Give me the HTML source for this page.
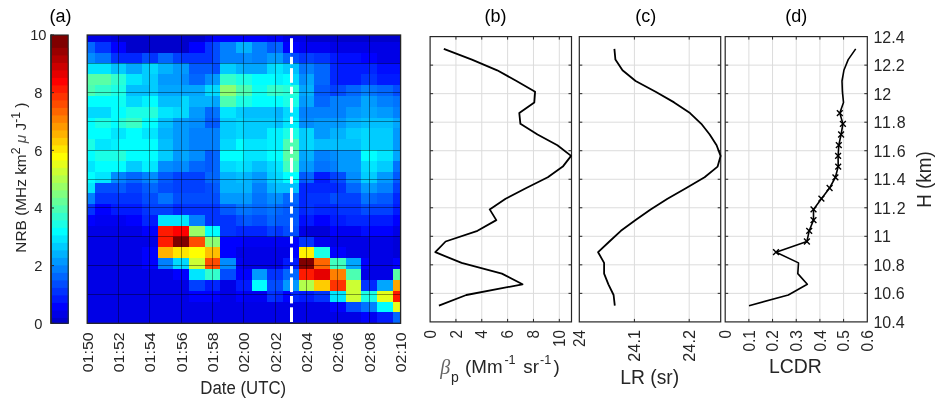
<!DOCTYPE html>
<html><head><meta charset="utf-8"><title>Figure</title>
<style>
html,body{margin:0;padding:0;background:#fff;}
svg{display:block;font-family:"Liberation Sans",sans-serif;}
</style></head><body>
<svg width="944" height="406" viewBox="0 0 944 406">
<rect width="944" height="406" fill="#fff"/>
<rect x="51.0" y="35.0" width="17.20" height="288.30" fill="#800000"/>
<rect x="51.0" y="47.90" width="17.20" height="275.40" fill="#990000"/>
<rect x="51.0" y="55.40" width="17.20" height="267.90" fill="#b20000"/>
<rect x="51.0" y="62.90" width="17.20" height="260.40" fill="#cc0000"/>
<rect x="51.0" y="70.40" width="17.20" height="252.90" fill="#e60000"/>
<rect x="51.0" y="77.90" width="17.20" height="245.40" fill="#ff0000"/>
<rect x="51.0" y="85.40" width="17.20" height="237.90" fill="#ff1a00"/>
<rect x="51.0" y="92.90" width="17.20" height="230.40" fill="#ff3300"/>
<rect x="51.0" y="100.40" width="17.20" height="222.90" fill="#ff4c00"/>
<rect x="51.0" y="107.90" width="17.20" height="215.40" fill="#ff6600"/>
<rect x="51.0" y="115.40" width="17.20" height="207.90" fill="#ff8000"/>
<rect x="51.0" y="122.90" width="17.20" height="200.40" fill="#ff9900"/>
<rect x="51.0" y="130.40" width="17.20" height="192.90" fill="#ffb200"/>
<rect x="51.0" y="137.90" width="17.20" height="185.40" fill="#ffcc00"/>
<rect x="51.0" y="145.40" width="17.20" height="177.90" fill="#ffe600"/>
<rect x="51.0" y="152.90" width="17.20" height="170.40" fill="#ffff00"/>
<rect x="51.0" y="160.40" width="17.20" height="162.90" fill="#e6ff1a"/>
<rect x="51.0" y="167.90" width="17.20" height="155.40" fill="#ccff33"/>
<rect x="51.0" y="175.40" width="17.20" height="147.90" fill="#b2ff4c"/>
<rect x="51.0" y="182.90" width="17.20" height="140.40" fill="#99ff66"/>
<rect x="51.0" y="190.40" width="17.20" height="132.90" fill="#80ff80"/>
<rect x="51.0" y="197.90" width="17.20" height="125.40" fill="#66ff99"/>
<rect x="51.0" y="205.40" width="17.20" height="117.90" fill="#4cffb2"/>
<rect x="51.0" y="212.90" width="17.20" height="110.40" fill="#33ffcc"/>
<rect x="51.0" y="220.40" width="17.20" height="102.90" fill="#1affe6"/>
<rect x="51.0" y="227.90" width="17.20" height="95.40" fill="#00ffff"/>
<rect x="51.0" y="235.40" width="17.20" height="87.90" fill="#00e6ff"/>
<rect x="51.0" y="242.90" width="17.20" height="80.40" fill="#00ccff"/>
<rect x="51.0" y="250.40" width="17.20" height="72.90" fill="#00b2ff"/>
<rect x="51.0" y="257.90" width="17.20" height="65.40" fill="#0099ff"/>
<rect x="51.0" y="265.40" width="17.20" height="57.90" fill="#0080ff"/>
<rect x="51.0" y="272.90" width="17.20" height="50.40" fill="#0066ff"/>
<rect x="51.0" y="280.40" width="17.20" height="42.90" fill="#004cff"/>
<rect x="51.0" y="287.90" width="17.20" height="35.40" fill="#0033ff"/>
<rect x="51.0" y="295.40" width="17.20" height="27.90" fill="#001aff"/>
<rect x="51.0" y="302.90" width="17.20" height="20.40" fill="#0000ff"/>
<rect x="51.0" y="310.40" width="17.20" height="12.90" fill="#0000e6"/>
<rect x="51.0" y="317.90" width="17.20" height="5.40" fill="#0000cc"/>
<rect x="51.0" y="35.0" width="17.20" height="288.30" fill="none" stroke="#262626" stroke-width="1.1"/>
<rect x="50.2" y="34.5" width="1.6" height="289.30" fill="#262626"/>
<line x1="51.0" x2="54.0" y1="323.30" y2="323.30" stroke="#262626" stroke-width="1"/>
<text x="38.3" y="328.60" font-size="14.7" text-anchor="middle" fill="#262626">0</text>
<line x1="51.0" x2="54.0" y1="265.64" y2="265.64" stroke="#262626" stroke-width="1"/>
<text x="38.3" y="270.94" font-size="14.7" text-anchor="middle" fill="#262626">2</text>
<line x1="51.0" x2="54.0" y1="207.98" y2="207.98" stroke="#262626" stroke-width="1"/>
<text x="38.3" y="213.28" font-size="14.7" text-anchor="middle" fill="#262626">4</text>
<line x1="51.0" x2="54.0" y1="150.32" y2="150.32" stroke="#262626" stroke-width="1"/>
<text x="38.3" y="155.62" font-size="14.7" text-anchor="middle" fill="#262626">6</text>
<line x1="51.0" x2="54.0" y1="92.66" y2="92.66" stroke="#262626" stroke-width="1"/>
<text x="38.3" y="97.96" font-size="14.7" text-anchor="middle" fill="#262626">8</text>
<line x1="51.0" x2="54.0" y1="35.00" y2="35.00" stroke="#262626" stroke-width="1"/>
<text x="38.3" y="40.30" font-size="14.7" text-anchor="middle" fill="#262626">10</text>
<g shape-rendering="crispEdges">
<rect x="87.20" y="35.00" width="23.91" height="7.12" fill="#0000e6"/>
<rect x="110.71" y="35.00" width="8.23" height="7.12" fill="#0000d9"/>
<rect x="118.54" y="35.00" width="86.59" height="7.12" fill="#0000cc"/>
<rect x="204.73" y="35.00" width="8.23" height="7.12" fill="#0000e6"/>
<rect x="212.56" y="35.00" width="55.25" height="7.12" fill="#0000ff"/>
<rect x="267.41" y="35.00" width="8.23" height="7.12" fill="#0000f2"/>
<rect x="275.24" y="35.00" width="8.24" height="7.12" fill="#0000ff"/>
<rect x="283.08" y="35.00" width="23.90" height="7.12" fill="#0000e6"/>
<rect x="306.58" y="35.00" width="94.42" height="7.12" fill="#0000cc"/>
<rect x="87.20" y="41.72" width="8.23" height="11.23" fill="#0066ff"/>
<rect x="95.03" y="41.72" width="16.07" height="11.23" fill="#0033ff"/>
<rect x="110.71" y="41.72" width="16.07" height="11.23" fill="#0000ff"/>
<rect x="126.38" y="41.72" width="63.08" height="11.23" fill="#0000cc"/>
<rect x="189.06" y="41.72" width="16.07" height="11.23" fill="#0000ff"/>
<rect x="204.73" y="41.72" width="8.23" height="11.23" fill="#0033ff"/>
<rect x="212.56" y="41.72" width="8.24" height="11.23" fill="#004cff"/>
<rect x="220.40" y="41.72" width="16.07" height="11.23" fill="#0080ff"/>
<rect x="236.06" y="41.72" width="16.07" height="11.23" fill="#00b2ff"/>
<rect x="251.74" y="41.72" width="16.07" height="11.23" fill="#0080ff"/>
<rect x="267.41" y="41.72" width="8.23" height="11.23" fill="#0059ff"/>
<rect x="275.24" y="41.72" width="8.24" height="11.23" fill="#0066ff"/>
<rect x="283.08" y="41.72" width="16.07" height="11.23" fill="#0000ff"/>
<rect x="298.75" y="41.72" width="31.74" height="11.23" fill="#0000f2"/>
<rect x="330.09" y="41.72" width="70.91" height="11.23" fill="#0000e6"/>
<rect x="87.20" y="52.55" width="8.23" height="11.23" fill="#008cff"/>
<rect x="95.03" y="52.55" width="16.07" height="11.23" fill="#0073ff"/>
<rect x="110.71" y="52.55" width="8.23" height="11.23" fill="#0033ff"/>
<rect x="118.54" y="52.55" width="23.91" height="11.23" fill="#0026ff"/>
<rect x="142.05" y="52.55" width="8.23" height="11.23" fill="#004cff"/>
<rect x="149.88" y="52.55" width="8.24" height="11.23" fill="#0033ff"/>
<rect x="157.72" y="52.55" width="16.07" height="11.23" fill="#0066ff"/>
<rect x="173.38" y="52.55" width="8.24" height="11.23" fill="#0040ff"/>
<rect x="181.22" y="52.55" width="31.74" height="11.23" fill="#0033ff"/>
<rect x="212.56" y="52.55" width="8.24" height="11.23" fill="#004cff"/>
<rect x="220.40" y="52.55" width="23.90" height="11.23" fill="#0080ff"/>
<rect x="243.90" y="52.55" width="8.23" height="11.23" fill="#008cff"/>
<rect x="251.74" y="52.55" width="16.07" height="11.23" fill="#0080ff"/>
<rect x="267.41" y="52.55" width="16.07" height="11.23" fill="#0099ff"/>
<rect x="283.08" y="52.55" width="8.23" height="11.23" fill="#0066ff"/>
<rect x="290.91" y="52.55" width="8.23" height="11.23" fill="#004cff"/>
<rect x="298.75" y="52.55" width="8.24" height="11.23" fill="#0033ff"/>
<rect x="306.58" y="52.55" width="8.23" height="11.23" fill="#0040ff"/>
<rect x="314.42" y="52.55" width="16.07" height="11.23" fill="#0033ff"/>
<rect x="330.09" y="52.55" width="8.23" height="11.23" fill="#001aff"/>
<rect x="337.92" y="52.55" width="23.90" height="11.23" fill="#000dff"/>
<rect x="361.43" y="52.55" width="16.07" height="11.23" fill="#0000ff"/>
<rect x="377.10" y="52.55" width="23.90" height="11.23" fill="#0000e6"/>
<rect x="87.20" y="63.38" width="23.91" height="11.23" fill="#00e6ff"/>
<rect x="110.71" y="63.38" width="8.23" height="11.23" fill="#00bfff"/>
<rect x="118.54" y="63.38" width="8.23" height="11.23" fill="#00ccff"/>
<rect x="126.38" y="63.38" width="16.07" height="11.23" fill="#00a6ff"/>
<rect x="142.05" y="63.38" width="8.23" height="11.23" fill="#00ccff"/>
<rect x="149.88" y="63.38" width="8.24" height="11.23" fill="#00d9ff"/>
<rect x="157.72" y="63.38" width="16.07" height="11.23" fill="#00b2ff"/>
<rect x="173.38" y="63.38" width="16.07" height="11.23" fill="#0099ff"/>
<rect x="189.06" y="63.38" width="23.90" height="11.23" fill="#0059ff"/>
<rect x="212.56" y="63.38" width="8.24" height="11.23" fill="#004cff"/>
<rect x="220.40" y="63.38" width="16.07" height="11.23" fill="#00ccff"/>
<rect x="236.06" y="63.38" width="8.24" height="11.23" fill="#00b2ff"/>
<rect x="243.90" y="63.38" width="23.90" height="11.23" fill="#00a6ff"/>
<rect x="267.41" y="63.38" width="8.23" height="11.23" fill="#00d9ff"/>
<rect x="275.24" y="63.38" width="8.24" height="11.23" fill="#00e6ff"/>
<rect x="283.08" y="63.38" width="8.23" height="11.23" fill="#00ccff"/>
<rect x="290.91" y="63.38" width="8.23" height="11.23" fill="#00bfff"/>
<rect x="298.75" y="63.38" width="8.24" height="11.23" fill="#0073ff"/>
<rect x="306.58" y="63.38" width="8.23" height="11.23" fill="#0080ff"/>
<rect x="314.42" y="63.38" width="16.07" height="11.23" fill="#0066ff"/>
<rect x="330.09" y="63.38" width="8.23" height="11.23" fill="#0026ff"/>
<rect x="337.92" y="63.38" width="31.74" height="11.23" fill="#001aff"/>
<rect x="369.26" y="63.38" width="8.23" height="11.23" fill="#0026ff"/>
<rect x="377.10" y="63.38" width="23.90" height="11.23" fill="#000dff"/>
<rect x="87.20" y="74.21" width="23.91" height="11.23" fill="#59ffa6"/>
<rect x="110.71" y="74.21" width="8.23" height="11.23" fill="#33ffcc"/>
<rect x="118.54" y="74.21" width="8.23" height="11.23" fill="#26ffd9"/>
<rect x="126.38" y="74.21" width="16.07" height="11.23" fill="#00e6ff"/>
<rect x="142.05" y="74.21" width="16.07" height="11.23" fill="#00ccff"/>
<rect x="157.72" y="74.21" width="23.90" height="11.23" fill="#0099ff"/>
<rect x="181.22" y="74.21" width="8.23" height="11.23" fill="#008cff"/>
<rect x="189.06" y="74.21" width="16.07" height="11.23" fill="#0066ff"/>
<rect x="204.73" y="74.21" width="8.23" height="11.23" fill="#008cff"/>
<rect x="212.56" y="74.21" width="8.24" height="11.23" fill="#0099ff"/>
<rect x="220.40" y="74.21" width="16.07" height="11.23" fill="#33ffcc"/>
<rect x="236.06" y="74.21" width="16.07" height="11.23" fill="#1affe6"/>
<rect x="251.74" y="74.21" width="23.90" height="11.23" fill="#00ffff"/>
<rect x="275.24" y="74.21" width="8.24" height="11.23" fill="#00f2ff"/>
<rect x="283.08" y="74.21" width="8.23" height="11.23" fill="#00ffff"/>
<rect x="290.91" y="74.21" width="8.23" height="11.23" fill="#00d9ff"/>
<rect x="298.75" y="74.21" width="8.24" height="11.23" fill="#008cff"/>
<rect x="306.58" y="74.21" width="8.23" height="11.23" fill="#00a6ff"/>
<rect x="314.42" y="74.21" width="16.07" height="11.23" fill="#0066ff"/>
<rect x="330.09" y="74.21" width="8.23" height="11.23" fill="#0026ff"/>
<rect x="337.92" y="74.21" width="23.90" height="11.23" fill="#001aff"/>
<rect x="361.43" y="74.21" width="16.07" height="11.23" fill="#0033ff"/>
<rect x="377.10" y="74.21" width="23.90" height="11.23" fill="#001aff"/>
<rect x="87.20" y="85.04" width="8.23" height="11.23" fill="#4cffb2"/>
<rect x="95.03" y="85.04" width="16.07" height="11.23" fill="#33ffcc"/>
<rect x="110.71" y="85.04" width="16.07" height="11.23" fill="#1affe6"/>
<rect x="126.38" y="85.04" width="23.90" height="11.23" fill="#00bfff"/>
<rect x="149.88" y="85.04" width="8.24" height="11.23" fill="#00ccff"/>
<rect x="157.72" y="85.04" width="47.41" height="11.23" fill="#00a6ff"/>
<rect x="204.73" y="85.04" width="16.07" height="11.23" fill="#00d9ff"/>
<rect x="220.40" y="85.04" width="16.07" height="11.23" fill="#8cff73"/>
<rect x="236.06" y="85.04" width="16.07" height="11.23" fill="#4cffb2"/>
<rect x="251.74" y="85.04" width="16.07" height="11.23" fill="#0dfff2"/>
<rect x="267.41" y="85.04" width="16.07" height="11.23" fill="#33ffcc"/>
<rect x="283.08" y="85.04" width="16.07" height="11.23" fill="#26ffd9"/>
<rect x="298.75" y="85.04" width="8.24" height="11.23" fill="#00a6ff"/>
<rect x="306.58" y="85.04" width="8.23" height="11.23" fill="#00b2ff"/>
<rect x="314.42" y="85.04" width="16.07" height="11.23" fill="#0059ff"/>
<rect x="330.09" y="85.04" width="8.23" height="11.23" fill="#0040ff"/>
<rect x="337.92" y="85.04" width="8.23" height="11.23" fill="#004cff"/>
<rect x="345.75" y="85.04" width="16.07" height="11.23" fill="#0066ff"/>
<rect x="361.43" y="85.04" width="8.24" height="11.23" fill="#0080ff"/>
<rect x="369.26" y="85.04" width="8.23" height="11.23" fill="#0073ff"/>
<rect x="377.10" y="85.04" width="16.07" height="11.23" fill="#0066ff"/>
<rect x="392.77" y="85.04" width="8.23" height="11.23" fill="#004cff"/>
<rect x="87.20" y="95.87" width="31.74" height="11.23" fill="#00ffff"/>
<rect x="118.54" y="95.87" width="8.23" height="11.23" fill="#0dfff2"/>
<rect x="126.38" y="95.87" width="16.07" height="11.23" fill="#00d9ff"/>
<rect x="142.05" y="95.87" width="8.23" height="11.23" fill="#00f2ff"/>
<rect x="149.88" y="95.87" width="8.24" height="11.23" fill="#00ffff"/>
<rect x="157.72" y="95.87" width="23.90" height="11.23" fill="#00bfff"/>
<rect x="181.22" y="95.87" width="8.23" height="11.23" fill="#00d9ff"/>
<rect x="189.06" y="95.87" width="23.90" height="11.23" fill="#00b2ff"/>
<rect x="212.56" y="95.87" width="8.24" height="11.23" fill="#00a6ff"/>
<rect x="220.40" y="95.87" width="16.07" height="11.23" fill="#4cffb2"/>
<rect x="236.06" y="95.87" width="16.07" height="11.23" fill="#1affe6"/>
<rect x="251.74" y="95.87" width="31.74" height="11.23" fill="#00ffff"/>
<rect x="283.08" y="95.87" width="16.07" height="11.23" fill="#1affe6"/>
<rect x="298.75" y="95.87" width="8.24" height="11.23" fill="#0099ff"/>
<rect x="306.58" y="95.87" width="8.23" height="11.23" fill="#00a6ff"/>
<rect x="314.42" y="95.87" width="16.07" height="11.23" fill="#0066ff"/>
<rect x="330.09" y="95.87" width="31.74" height="11.23" fill="#0080ff"/>
<rect x="361.43" y="95.87" width="8.24" height="11.23" fill="#00a6ff"/>
<rect x="369.26" y="95.87" width="8.23" height="11.23" fill="#0099ff"/>
<rect x="377.10" y="95.87" width="16.07" height="11.23" fill="#0080ff"/>
<rect x="392.77" y="95.87" width="8.23" height="11.23" fill="#0073ff"/>
<rect x="87.20" y="106.70" width="23.91" height="11.23" fill="#00d9ff"/>
<rect x="110.71" y="106.70" width="16.07" height="11.23" fill="#00ffff"/>
<rect x="126.38" y="106.70" width="23.90" height="11.23" fill="#1affe6"/>
<rect x="149.88" y="106.70" width="8.24" height="11.23" fill="#26ffd9"/>
<rect x="157.72" y="106.70" width="16.07" height="11.23" fill="#00e6ff"/>
<rect x="173.38" y="106.70" width="16.07" height="11.23" fill="#00d9ff"/>
<rect x="189.06" y="106.70" width="16.07" height="11.23" fill="#0099ff"/>
<rect x="204.73" y="106.70" width="8.23" height="11.23" fill="#0066ff"/>
<rect x="212.56" y="106.70" width="8.24" height="11.23" fill="#0073ff"/>
<rect x="220.40" y="106.70" width="16.07" height="11.23" fill="#00e6ff"/>
<rect x="236.06" y="106.70" width="8.24" height="11.23" fill="#00ccff"/>
<rect x="243.90" y="106.70" width="31.74" height="11.23" fill="#00bfff"/>
<rect x="275.24" y="106.70" width="8.24" height="11.23" fill="#00b2ff"/>
<rect x="283.08" y="106.70" width="8.23" height="11.23" fill="#00d9ff"/>
<rect x="290.91" y="106.70" width="8.23" height="11.23" fill="#00e6ff"/>
<rect x="298.75" y="106.70" width="47.41" height="11.23" fill="#0080ff"/>
<rect x="345.75" y="106.70" width="16.07" height="11.23" fill="#0099ff"/>
<rect x="361.43" y="106.70" width="16.07" height="11.23" fill="#00a6ff"/>
<rect x="377.10" y="106.70" width="16.07" height="11.23" fill="#0099ff"/>
<rect x="392.77" y="106.70" width="8.23" height="11.23" fill="#0080ff"/>
<rect x="87.20" y="117.53" width="8.23" height="11.23" fill="#00ffff"/>
<rect x="95.03" y="117.53" width="16.07" height="11.23" fill="#1affe6"/>
<rect x="110.71" y="117.53" width="8.23" height="11.23" fill="#00ffff"/>
<rect x="118.54" y="117.53" width="8.23" height="11.23" fill="#26ffd9"/>
<rect x="126.38" y="117.53" width="16.07" height="11.23" fill="#3bffc4"/>
<rect x="142.05" y="117.53" width="16.07" height="11.23" fill="#00ffff"/>
<rect x="157.72" y="117.53" width="16.07" height="11.23" fill="#00bfff"/>
<rect x="173.38" y="117.53" width="16.07" height="11.23" fill="#0099ff"/>
<rect x="189.06" y="117.53" width="16.07" height="11.23" fill="#008cff"/>
<rect x="204.73" y="117.53" width="16.07" height="11.23" fill="#0059ff"/>
<rect x="220.40" y="117.53" width="16.07" height="11.23" fill="#00ccff"/>
<rect x="236.06" y="117.53" width="8.24" height="11.23" fill="#00d9ff"/>
<rect x="243.90" y="117.53" width="31.74" height="11.23" fill="#00ccff"/>
<rect x="275.24" y="117.53" width="8.24" height="11.23" fill="#00bfff"/>
<rect x="283.08" y="117.53" width="8.23" height="11.23" fill="#00e6ff"/>
<rect x="290.91" y="117.53" width="8.23" height="11.23" fill="#00f2ff"/>
<rect x="298.75" y="117.53" width="16.07" height="11.23" fill="#008cff"/>
<rect x="314.42" y="117.53" width="31.74" height="11.23" fill="#0099ff"/>
<rect x="345.75" y="117.53" width="16.07" height="11.23" fill="#00b2ff"/>
<rect x="361.43" y="117.53" width="31.74" height="11.23" fill="#00bfff"/>
<rect x="392.77" y="117.53" width="8.23" height="11.23" fill="#00a6ff"/>
<rect x="87.20" y="128.36" width="23.91" height="11.23" fill="#00ffff"/>
<rect x="110.71" y="128.36" width="16.07" height="11.23" fill="#00e6ff"/>
<rect x="126.38" y="128.36" width="16.07" height="11.23" fill="#00ffff"/>
<rect x="142.05" y="128.36" width="16.07" height="11.23" fill="#00e6ff"/>
<rect x="157.72" y="128.36" width="16.07" height="11.23" fill="#00b2ff"/>
<rect x="173.38" y="128.36" width="16.07" height="11.23" fill="#0099ff"/>
<rect x="189.06" y="128.36" width="31.74" height="11.23" fill="#0080ff"/>
<rect x="220.40" y="128.36" width="16.07" height="11.23" fill="#00ccff"/>
<rect x="236.06" y="128.36" width="8.24" height="11.23" fill="#00d9ff"/>
<rect x="243.90" y="128.36" width="23.90" height="11.23" fill="#00ccff"/>
<rect x="267.41" y="128.36" width="16.07" height="11.23" fill="#00f2ff"/>
<rect x="283.08" y="128.36" width="16.07" height="11.23" fill="#1affe6"/>
<rect x="298.75" y="128.36" width="8.24" height="11.23" fill="#00ccff"/>
<rect x="306.58" y="128.36" width="8.23" height="11.23" fill="#00d9ff"/>
<rect x="314.42" y="128.36" width="16.07" height="11.23" fill="#0099ff"/>
<rect x="330.09" y="128.36" width="16.07" height="11.23" fill="#00b2ff"/>
<rect x="345.75" y="128.36" width="16.07" height="11.23" fill="#00ccff"/>
<rect x="361.43" y="128.36" width="8.24" height="11.23" fill="#00d9ff"/>
<rect x="369.26" y="128.36" width="23.90" height="11.23" fill="#00ccff"/>
<rect x="392.77" y="128.36" width="8.23" height="11.23" fill="#0099ff"/>
<rect x="87.20" y="139.19" width="8.23" height="11.23" fill="#1affe6"/>
<rect x="95.03" y="139.19" width="16.07" height="11.23" fill="#00e6ff"/>
<rect x="110.71" y="139.19" width="8.23" height="11.23" fill="#00f2ff"/>
<rect x="118.54" y="139.19" width="39.58" height="11.23" fill="#00ffff"/>
<rect x="157.72" y="139.19" width="16.07" height="11.23" fill="#00bfff"/>
<rect x="173.38" y="139.19" width="16.07" height="11.23" fill="#0099ff"/>
<rect x="189.06" y="139.19" width="31.74" height="11.23" fill="#0080ff"/>
<rect x="220.40" y="139.19" width="16.07" height="11.23" fill="#00d9ff"/>
<rect x="236.06" y="139.19" width="8.24" height="11.23" fill="#00ffff"/>
<rect x="243.90" y="139.19" width="23.90" height="11.23" fill="#00e6ff"/>
<rect x="267.41" y="139.19" width="16.07" height="11.23" fill="#00f2ff"/>
<rect x="283.08" y="139.19" width="16.07" height="11.23" fill="#4cffb2"/>
<rect x="298.75" y="139.19" width="8.24" height="11.23" fill="#00ccff"/>
<rect x="306.58" y="139.19" width="8.23" height="11.23" fill="#00d9ff"/>
<rect x="314.42" y="139.19" width="47.41" height="11.23" fill="#00bfff"/>
<rect x="361.43" y="139.19" width="8.24" height="11.23" fill="#00d9ff"/>
<rect x="369.26" y="139.19" width="23.90" height="11.23" fill="#00ccff"/>
<rect x="392.77" y="139.19" width="8.23" height="11.23" fill="#0099ff"/>
<rect x="87.20" y="150.02" width="8.23" height="11.23" fill="#00ffff"/>
<rect x="95.03" y="150.02" width="23.91" height="11.23" fill="#1affe6"/>
<rect x="118.54" y="150.02" width="8.23" height="11.23" fill="#26ffd9"/>
<rect x="126.38" y="150.02" width="31.74" height="11.23" fill="#00ffff"/>
<rect x="157.72" y="150.02" width="16.07" height="11.23" fill="#00ccff"/>
<rect x="173.38" y="150.02" width="8.24" height="11.23" fill="#0099ff"/>
<rect x="181.22" y="150.02" width="8.23" height="11.23" fill="#00a6ff"/>
<rect x="189.06" y="150.02" width="16.07" height="11.23" fill="#008cff"/>
<rect x="204.73" y="150.02" width="8.23" height="11.23" fill="#0059ff"/>
<rect x="212.56" y="150.02" width="8.24" height="11.23" fill="#0066ff"/>
<rect x="220.40" y="150.02" width="23.90" height="11.23" fill="#00ffff"/>
<rect x="243.90" y="150.02" width="23.90" height="11.23" fill="#00e6ff"/>
<rect x="267.41" y="150.02" width="16.07" height="11.23" fill="#00ffff"/>
<rect x="283.08" y="150.02" width="16.07" height="11.23" fill="#59ffa6"/>
<rect x="298.75" y="150.02" width="8.24" height="11.23" fill="#00a6ff"/>
<rect x="306.58" y="150.02" width="8.23" height="11.23" fill="#00b2ff"/>
<rect x="314.42" y="150.02" width="16.07" height="11.23" fill="#0080ff"/>
<rect x="330.09" y="150.02" width="8.23" height="11.23" fill="#008cff"/>
<rect x="337.92" y="150.02" width="23.90" height="11.23" fill="#0099ff"/>
<rect x="361.43" y="150.02" width="16.07" height="11.23" fill="#00ffff"/>
<rect x="377.10" y="150.02" width="16.07" height="11.23" fill="#00e6ff"/>
<rect x="392.77" y="150.02" width="8.23" height="11.23" fill="#00a6ff"/>
<rect x="87.20" y="160.85" width="8.23" height="11.23" fill="#00e6ff"/>
<rect x="95.03" y="160.85" width="31.74" height="11.23" fill="#00ffff"/>
<rect x="126.38" y="160.85" width="16.07" height="11.23" fill="#00ccff"/>
<rect x="142.05" y="160.85" width="8.23" height="11.23" fill="#00f2ff"/>
<rect x="149.88" y="160.85" width="8.24" height="11.23" fill="#00e6ff"/>
<rect x="157.72" y="160.85" width="16.07" height="11.23" fill="#008cff"/>
<rect x="173.38" y="160.85" width="8.24" height="11.23" fill="#0080ff"/>
<rect x="181.22" y="160.85" width="8.23" height="11.23" fill="#008cff"/>
<rect x="189.06" y="160.85" width="16.07" height="11.23" fill="#0066ff"/>
<rect x="204.73" y="160.85" width="8.23" height="11.23" fill="#0059ff"/>
<rect x="212.56" y="160.85" width="8.24" height="11.23" fill="#0066ff"/>
<rect x="220.40" y="160.85" width="16.07" height="11.23" fill="#00d9ff"/>
<rect x="236.06" y="160.85" width="8.24" height="11.23" fill="#00e6ff"/>
<rect x="243.90" y="160.85" width="8.23" height="11.23" fill="#00d9ff"/>
<rect x="251.74" y="160.85" width="16.07" height="11.23" fill="#00bfff"/>
<rect x="267.41" y="160.85" width="8.23" height="11.23" fill="#00d9ff"/>
<rect x="275.24" y="160.85" width="8.24" height="11.23" fill="#00e6ff"/>
<rect x="283.08" y="160.85" width="16.07" height="11.23" fill="#40ffbf"/>
<rect x="298.75" y="160.85" width="16.07" height="11.23" fill="#0099ff"/>
<rect x="314.42" y="160.85" width="16.07" height="11.23" fill="#0073ff"/>
<rect x="330.09" y="160.85" width="8.23" height="11.23" fill="#0080ff"/>
<rect x="337.92" y="160.85" width="23.90" height="11.23" fill="#0099ff"/>
<rect x="361.43" y="160.85" width="8.24" height="11.23" fill="#00d9ff"/>
<rect x="369.26" y="160.85" width="8.23" height="11.23" fill="#00e6ff"/>
<rect x="377.10" y="160.85" width="16.07" height="11.23" fill="#00ccff"/>
<rect x="392.77" y="160.85" width="8.23" height="11.23" fill="#0073ff"/>
<rect x="87.20" y="171.68" width="8.23" height="11.23" fill="#00ffff"/>
<rect x="95.03" y="171.68" width="16.07" height="11.23" fill="#00e6ff"/>
<rect x="110.71" y="171.68" width="8.23" height="11.23" fill="#008cff"/>
<rect x="118.54" y="171.68" width="8.23" height="11.23" fill="#0080ff"/>
<rect x="126.38" y="171.68" width="16.07" height="11.23" fill="#0066ff"/>
<rect x="142.05" y="171.68" width="8.23" height="11.23" fill="#0080ff"/>
<rect x="149.88" y="171.68" width="8.24" height="11.23" fill="#008cff"/>
<rect x="157.72" y="171.68" width="16.07" height="11.23" fill="#0059ff"/>
<rect x="173.38" y="171.68" width="31.74" height="11.23" fill="#0040ff"/>
<rect x="204.73" y="171.68" width="16.07" height="11.23" fill="#0066ff"/>
<rect x="220.40" y="171.68" width="16.07" height="11.23" fill="#00b2ff"/>
<rect x="236.06" y="171.68" width="8.24" height="11.23" fill="#00bfff"/>
<rect x="243.90" y="171.68" width="8.23" height="11.23" fill="#00b2ff"/>
<rect x="251.74" y="171.68" width="16.07" height="11.23" fill="#0099ff"/>
<rect x="267.41" y="171.68" width="8.23" height="11.23" fill="#00ccff"/>
<rect x="275.24" y="171.68" width="8.24" height="11.23" fill="#00d9ff"/>
<rect x="283.08" y="171.68" width="16.07" height="11.23" fill="#00ffff"/>
<rect x="298.75" y="171.68" width="8.24" height="11.23" fill="#0059ff"/>
<rect x="306.58" y="171.68" width="8.23" height="11.23" fill="#0066ff"/>
<rect x="314.42" y="171.68" width="16.07" height="11.23" fill="#001aff"/>
<rect x="330.09" y="171.68" width="8.23" height="11.23" fill="#0040ff"/>
<rect x="337.92" y="171.68" width="8.23" height="11.23" fill="#004cff"/>
<rect x="345.75" y="171.68" width="16.07" height="11.23" fill="#008cff"/>
<rect x="361.43" y="171.68" width="16.07" height="11.23" fill="#00ccff"/>
<rect x="377.10" y="171.68" width="16.07" height="11.23" fill="#0099ff"/>
<rect x="392.77" y="171.68" width="8.23" height="11.23" fill="#0059ff"/>
<rect x="87.20" y="182.51" width="8.23" height="11.23" fill="#00e6ff"/>
<rect x="95.03" y="182.51" width="23.91" height="11.23" fill="#004cff"/>
<rect x="118.54" y="182.51" width="8.23" height="11.23" fill="#0059ff"/>
<rect x="126.38" y="182.51" width="16.07" height="11.23" fill="#0040ff"/>
<rect x="142.05" y="182.51" width="8.23" height="11.23" fill="#0059ff"/>
<rect x="149.88" y="182.51" width="8.24" height="11.23" fill="#0066ff"/>
<rect x="157.72" y="182.51" width="16.07" height="11.23" fill="#004cff"/>
<rect x="173.38" y="182.51" width="31.74" height="11.23" fill="#0040ff"/>
<rect x="204.73" y="182.51" width="8.23" height="11.23" fill="#004cff"/>
<rect x="212.56" y="182.51" width="8.24" height="11.23" fill="#0059ff"/>
<rect x="220.40" y="182.51" width="31.74" height="11.23" fill="#00b2ff"/>
<rect x="251.74" y="182.51" width="16.07" height="11.23" fill="#0080ff"/>
<rect x="267.41" y="182.51" width="8.23" height="11.23" fill="#00b2ff"/>
<rect x="275.24" y="182.51" width="23.90" height="11.23" fill="#00bfff"/>
<rect x="298.75" y="182.51" width="39.58" height="11.23" fill="#0026ff"/>
<rect x="337.92" y="182.51" width="8.23" height="11.23" fill="#0033ff"/>
<rect x="345.75" y="182.51" width="16.07" height="11.23" fill="#0066ff"/>
<rect x="361.43" y="182.51" width="16.07" height="11.23" fill="#0099ff"/>
<rect x="377.10" y="182.51" width="16.07" height="11.23" fill="#0080ff"/>
<rect x="392.77" y="182.51" width="8.23" height="11.23" fill="#0040ff"/>
<rect x="87.20" y="193.34" width="8.23" height="11.23" fill="#0080ff"/>
<rect x="95.03" y="193.34" width="47.41" height="11.23" fill="#0033ff"/>
<rect x="142.05" y="193.34" width="16.07" height="11.23" fill="#004cff"/>
<rect x="157.72" y="193.34" width="16.07" height="11.23" fill="#0073ff"/>
<rect x="173.38" y="193.34" width="47.41" height="11.23" fill="#004cff"/>
<rect x="220.40" y="193.34" width="31.74" height="11.23" fill="#0099ff"/>
<rect x="251.74" y="193.34" width="16.07" height="11.23" fill="#0073ff"/>
<rect x="267.41" y="193.34" width="16.07" height="11.23" fill="#008cff"/>
<rect x="283.08" y="193.34" width="16.07" height="11.23" fill="#0066ff"/>
<rect x="298.75" y="193.34" width="8.24" height="11.23" fill="#0026ff"/>
<rect x="306.58" y="193.34" width="23.90" height="11.23" fill="#0033ff"/>
<rect x="330.09" y="193.34" width="8.23" height="11.23" fill="#004cff"/>
<rect x="337.92" y="193.34" width="23.90" height="11.23" fill="#0040ff"/>
<rect x="361.43" y="193.34" width="8.24" height="11.23" fill="#0073ff"/>
<rect x="369.26" y="193.34" width="8.23" height="11.23" fill="#0066ff"/>
<rect x="377.10" y="193.34" width="16.07" height="11.23" fill="#0059ff"/>
<rect x="392.77" y="193.34" width="8.23" height="11.23" fill="#0026ff"/>
<rect x="87.20" y="204.17" width="8.23" height="11.23" fill="#0033ff"/>
<rect x="95.03" y="204.17" width="16.07" height="11.23" fill="#0000ff"/>
<rect x="110.71" y="204.17" width="31.74" height="11.23" fill="#001aff"/>
<rect x="142.05" y="204.17" width="8.23" height="11.23" fill="#0033ff"/>
<rect x="149.88" y="204.17" width="23.90" height="11.23" fill="#0040ff"/>
<rect x="173.38" y="204.17" width="8.24" height="11.23" fill="#0026ff"/>
<rect x="181.22" y="204.17" width="39.58" height="11.23" fill="#0033ff"/>
<rect x="220.40" y="204.17" width="16.07" height="11.23" fill="#0059ff"/>
<rect x="236.06" y="204.17" width="16.07" height="11.23" fill="#0073ff"/>
<rect x="251.74" y="204.17" width="16.07" height="11.23" fill="#0066ff"/>
<rect x="267.41" y="204.17" width="8.23" height="11.23" fill="#0073ff"/>
<rect x="275.24" y="204.17" width="8.24" height="11.23" fill="#0066ff"/>
<rect x="283.08" y="204.17" width="16.07" height="11.23" fill="#0059ff"/>
<rect x="298.75" y="204.17" width="8.24" height="11.23" fill="#0026ff"/>
<rect x="306.58" y="204.17" width="8.23" height="11.23" fill="#0033ff"/>
<rect x="314.42" y="204.17" width="23.90" height="11.23" fill="#0026ff"/>
<rect x="337.92" y="204.17" width="23.90" height="11.23" fill="#0033ff"/>
<rect x="361.43" y="204.17" width="8.24" height="11.23" fill="#004cff"/>
<rect x="369.26" y="204.17" width="23.90" height="11.23" fill="#0040ff"/>
<rect x="392.77" y="204.17" width="8.23" height="11.23" fill="#001aff"/>
<rect x="87.20" y="215.00" width="8.23" height="11.23" fill="#0000ff"/>
<rect x="95.03" y="215.00" width="31.74" height="11.23" fill="#0000f2"/>
<rect x="126.38" y="215.00" width="16.07" height="11.23" fill="#0000ff"/>
<rect x="142.05" y="215.00" width="8.23" height="11.23" fill="#0026ff"/>
<rect x="149.88" y="215.00" width="8.24" height="11.23" fill="#001aff"/>
<rect x="157.72" y="215.00" width="31.74" height="11.23" fill="#00e6ff"/>
<rect x="189.06" y="215.00" width="16.07" height="11.23" fill="#0080ff"/>
<rect x="204.73" y="215.00" width="31.74" height="11.23" fill="#0033ff"/>
<rect x="236.06" y="215.00" width="8.24" height="11.23" fill="#004cff"/>
<rect x="243.90" y="215.00" width="8.23" height="11.23" fill="#0059ff"/>
<rect x="251.74" y="215.00" width="16.07" height="11.23" fill="#004cff"/>
<rect x="267.41" y="215.00" width="8.23" height="11.23" fill="#0066ff"/>
<rect x="275.24" y="215.00" width="23.90" height="11.23" fill="#0059ff"/>
<rect x="298.75" y="215.00" width="8.24" height="11.23" fill="#000dff"/>
<rect x="306.58" y="215.00" width="8.23" height="11.23" fill="#001aff"/>
<rect x="314.42" y="215.00" width="16.07" height="11.23" fill="#0000ff"/>
<rect x="330.09" y="215.00" width="16.07" height="11.23" fill="#001aff"/>
<rect x="345.75" y="215.00" width="23.91" height="11.23" fill="#0026ff"/>
<rect x="369.26" y="215.00" width="23.90" height="11.23" fill="#001aff"/>
<rect x="392.77" y="215.00" width="8.23" height="11.23" fill="#0000ff"/>
<rect x="87.20" y="225.83" width="55.25" height="11.23" fill="#0000e6"/>
<rect x="142.05" y="225.83" width="16.07" height="11.23" fill="#0000ff"/>
<rect x="157.72" y="225.83" width="16.07" height="11.23" fill="#ff1a00"/>
<rect x="173.38" y="225.83" width="16.07" height="11.23" fill="#ff0000"/>
<rect x="189.06" y="225.83" width="16.07" height="11.23" fill="#99ff66"/>
<rect x="204.73" y="225.83" width="16.07" height="11.23" fill="#00ffff"/>
<rect x="220.40" y="225.83" width="16.07" height="11.23" fill="#0033ff"/>
<rect x="236.06" y="225.83" width="31.74" height="11.23" fill="#0026ff"/>
<rect x="267.41" y="225.83" width="8.23" height="11.23" fill="#0040ff"/>
<rect x="275.24" y="225.83" width="8.24" height="11.23" fill="#0033ff"/>
<rect x="283.08" y="225.83" width="16.07" height="11.23" fill="#004cff"/>
<rect x="298.75" y="225.83" width="8.24" height="11.23" fill="#0000e6"/>
<rect x="306.58" y="225.83" width="23.90" height="11.23" fill="#0000d9"/>
<rect x="330.09" y="225.83" width="8.23" height="11.23" fill="#0000ff"/>
<rect x="337.92" y="225.83" width="23.90" height="11.23" fill="#0000f2"/>
<rect x="361.43" y="225.83" width="8.24" height="11.23" fill="#000dff"/>
<rect x="369.26" y="225.83" width="23.90" height="11.23" fill="#0000ff"/>
<rect x="392.77" y="225.83" width="8.23" height="11.23" fill="#0000e6"/>
<rect x="87.20" y="236.66" width="70.92" height="11.23" fill="#0000e6"/>
<rect x="157.72" y="236.66" width="16.07" height="11.23" fill="#ff1a00"/>
<rect x="173.38" y="236.66" width="16.07" height="11.23" fill="#800000"/>
<rect x="189.06" y="236.66" width="16.07" height="11.23" fill="#ff4c00"/>
<rect x="204.73" y="236.66" width="16.07" height="11.23" fill="#8cff73"/>
<rect x="220.40" y="236.66" width="23.90" height="11.23" fill="#0000ff"/>
<rect x="243.90" y="236.66" width="47.41" height="11.23" fill="#0000f2"/>
<rect x="290.91" y="236.66" width="8.23" height="11.23" fill="#0000ff"/>
<rect x="298.75" y="236.66" width="16.07" height="11.23" fill="#0033ff"/>
<rect x="314.42" y="236.66" width="16.07" height="11.23" fill="#0000f2"/>
<rect x="330.09" y="236.66" width="63.08" height="11.23" fill="#0000e6"/>
<rect x="392.77" y="236.66" width="8.23" height="11.23" fill="#0000d9"/>
<rect x="87.20" y="247.49" width="55.25" height="11.23" fill="#0000e6"/>
<rect x="142.05" y="247.49" width="16.07" height="11.23" fill="#0000ff"/>
<rect x="157.72" y="247.49" width="16.07" height="11.23" fill="#ffb200"/>
<rect x="173.38" y="247.49" width="16.07" height="11.23" fill="#ffe600"/>
<rect x="189.06" y="247.49" width="16.07" height="11.23" fill="#ffff00"/>
<rect x="204.73" y="247.49" width="16.07" height="11.23" fill="#ffbf00"/>
<rect x="220.40" y="247.49" width="16.07" height="11.23" fill="#0000ff"/>
<rect x="236.06" y="247.49" width="55.25" height="11.23" fill="#0000e6"/>
<rect x="290.91" y="247.49" width="8.23" height="11.23" fill="#0000ff"/>
<rect x="298.75" y="247.49" width="16.07" height="11.23" fill="#fff200"/>
<rect x="314.42" y="247.49" width="16.07" height="11.23" fill="#1affe6"/>
<rect x="330.09" y="247.49" width="16.07" height="11.23" fill="#0000ff"/>
<rect x="345.75" y="247.49" width="47.41" height="11.23" fill="#0000e6"/>
<rect x="392.77" y="247.49" width="8.23" height="11.23" fill="#0000d9"/>
<rect x="87.20" y="258.32" width="55.25" height="11.23" fill="#0000e6"/>
<rect x="142.05" y="258.32" width="16.07" height="11.23" fill="#0000ff"/>
<rect x="157.72" y="258.32" width="16.07" height="11.23" fill="#0080ff"/>
<rect x="173.38" y="258.32" width="16.07" height="11.23" fill="#00d9ff"/>
<rect x="189.06" y="258.32" width="16.07" height="11.23" fill="#ccff33"/>
<rect x="204.73" y="258.32" width="16.07" height="11.23" fill="#ff4c00"/>
<rect x="220.40" y="258.32" width="16.07" height="11.23" fill="#008cff"/>
<rect x="236.06" y="258.32" width="8.24" height="11.23" fill="#0000f2"/>
<rect x="243.90" y="258.32" width="39.58" height="11.23" fill="#0000e6"/>
<rect x="283.08" y="258.32" width="16.07" height="11.23" fill="#001aff"/>
<rect x="298.75" y="258.32" width="16.07" height="11.23" fill="#800000"/>
<rect x="314.42" y="258.32" width="16.07" height="11.23" fill="#ff6600"/>
<rect x="330.09" y="258.32" width="16.07" height="11.23" fill="#40ffbf"/>
<rect x="345.75" y="258.32" width="16.07" height="11.23" fill="#00a6ff"/>
<rect x="361.43" y="258.32" width="8.24" height="11.23" fill="#0000ff"/>
<rect x="369.26" y="258.32" width="23.90" height="11.23" fill="#0000e6"/>
<rect x="392.77" y="258.32" width="8.23" height="11.23" fill="#0000ff"/>
<rect x="87.20" y="269.15" width="86.58" height="11.23" fill="#0000e6"/>
<rect x="173.38" y="269.15" width="16.07" height="11.23" fill="#0000ff"/>
<rect x="189.06" y="269.15" width="16.07" height="11.23" fill="#00e6ff"/>
<rect x="204.73" y="269.15" width="16.07" height="11.23" fill="#33ffcc"/>
<rect x="220.40" y="269.15" width="16.07" height="11.23" fill="#004cff"/>
<rect x="236.06" y="269.15" width="16.07" height="11.23" fill="#0000ff"/>
<rect x="251.74" y="269.15" width="16.07" height="11.23" fill="#0099ff"/>
<rect x="267.41" y="269.15" width="16.07" height="11.23" fill="#0033ff"/>
<rect x="283.08" y="269.15" width="16.07" height="11.23" fill="#0066ff"/>
<rect x="298.75" y="269.15" width="16.07" height="11.23" fill="#ff1a00"/>
<rect x="314.42" y="269.15" width="16.07" height="11.23" fill="#e60000"/>
<rect x="330.09" y="269.15" width="16.07" height="11.23" fill="#ff8000"/>
<rect x="345.75" y="269.15" width="16.07" height="11.23" fill="#4cffb2"/>
<rect x="361.43" y="269.15" width="31.74" height="11.23" fill="#0000e6"/>
<rect x="392.77" y="269.15" width="8.23" height="11.23" fill="#59ffa6"/>
<rect x="87.20" y="279.98" width="102.26" height="11.23" fill="#0000e6"/>
<rect x="189.06" y="279.98" width="16.07" height="11.23" fill="#0040ff"/>
<rect x="204.73" y="279.98" width="8.23" height="11.23" fill="#001aff"/>
<rect x="212.56" y="279.98" width="8.24" height="11.23" fill="#0026ff"/>
<rect x="220.40" y="279.98" width="16.07" height="11.23" fill="#0000e6"/>
<rect x="236.06" y="279.98" width="16.07" height="11.23" fill="#001aff"/>
<rect x="251.74" y="279.98" width="16.07" height="11.23" fill="#00ffff"/>
<rect x="267.41" y="279.98" width="16.07" height="11.23" fill="#004cff"/>
<rect x="283.08" y="279.98" width="16.07" height="11.23" fill="#0099ff"/>
<rect x="298.75" y="279.98" width="16.07" height="11.23" fill="#b2ff4c"/>
<rect x="314.42" y="279.98" width="16.07" height="11.23" fill="#ffcc00"/>
<rect x="330.09" y="279.98" width="16.07" height="11.23" fill="#ff3300"/>
<rect x="345.75" y="279.98" width="16.07" height="11.23" fill="#ccff33"/>
<rect x="361.43" y="279.98" width="8.24" height="11.23" fill="#0033ff"/>
<rect x="369.26" y="279.98" width="8.23" height="11.23" fill="#0026ff"/>
<rect x="377.10" y="279.98" width="16.07" height="11.23" fill="#00a6ff"/>
<rect x="392.77" y="279.98" width="8.23" height="11.23" fill="#ffa600"/>
<rect x="87.20" y="290.81" width="102.26" height="11.23" fill="#0000e6"/>
<rect x="189.06" y="290.81" width="31.74" height="11.23" fill="#0000ff"/>
<rect x="220.40" y="290.81" width="16.07" height="11.23" fill="#0000e6"/>
<rect x="236.06" y="290.81" width="8.24" height="11.23" fill="#0000ff"/>
<rect x="243.90" y="290.81" width="23.90" height="11.23" fill="#0000f2"/>
<rect x="267.41" y="290.81" width="8.23" height="11.23" fill="#0033ff"/>
<rect x="275.24" y="290.81" width="8.24" height="11.23" fill="#0026ff"/>
<rect x="283.08" y="290.81" width="8.23" height="11.23" fill="#0000ff"/>
<rect x="290.91" y="290.81" width="8.23" height="11.23" fill="#0026ff"/>
<rect x="298.75" y="290.81" width="16.07" height="11.23" fill="#001aff"/>
<rect x="314.42" y="290.81" width="16.07" height="11.23" fill="#0033ff"/>
<rect x="330.09" y="290.81" width="16.07" height="11.23" fill="#00e6ff"/>
<rect x="345.75" y="290.81" width="16.07" height="11.23" fill="#ccff33"/>
<rect x="361.43" y="290.81" width="16.07" height="11.23" fill="#1affe6"/>
<rect x="377.10" y="290.81" width="16.07" height="11.23" fill="#e6ff1a"/>
<rect x="392.77" y="290.81" width="8.23" height="11.23" fill="#ff1a00"/>
<rect x="87.20" y="301.64" width="243.29" height="11.23" fill="#0000e6"/>
<rect x="330.09" y="301.64" width="16.07" height="11.23" fill="#0000ff"/>
<rect x="345.75" y="301.64" width="16.07" height="11.23" fill="#004cff"/>
<rect x="361.43" y="301.64" width="8.24" height="11.23" fill="#0073ff"/>
<rect x="369.26" y="301.64" width="8.23" height="11.23" fill="#0080ff"/>
<rect x="377.10" y="301.64" width="16.07" height="11.23" fill="#00ffff"/>
<rect x="392.77" y="301.64" width="8.23" height="11.23" fill="#e6ff1a"/>
<rect x="87.20" y="312.47" width="274.62" height="11.23" fill="#0000e6"/>
<rect x="361.43" y="312.47" width="8.24" height="11.23" fill="#0000ff"/>
<rect x="369.26" y="312.47" width="8.23" height="11.23" fill="#0000f2"/>
<rect x="377.10" y="312.47" width="16.07" height="11.23" fill="#001aff"/>
<rect x="392.77" y="312.47" width="8.23" height="11.23" fill="#0066ff"/>
</g>
<line x1="118.54" x2="118.54" y1="35.0" y2="323.3" stroke="#000" stroke-opacity="0.4" stroke-width="1" shape-rendering="crispEdges"/>
<line x1="149.88" x2="149.88" y1="35.0" y2="323.3" stroke="#000" stroke-opacity="0.4" stroke-width="1" shape-rendering="crispEdges"/>
<line x1="181.22" x2="181.22" y1="35.0" y2="323.3" stroke="#000" stroke-opacity="0.4" stroke-width="1" shape-rendering="crispEdges"/>
<line x1="212.56" x2="212.56" y1="35.0" y2="323.3" stroke="#000" stroke-opacity="0.4" stroke-width="1" shape-rendering="crispEdges"/>
<line x1="243.90" x2="243.90" y1="35.0" y2="323.3" stroke="#000" stroke-opacity="0.4" stroke-width="1" shape-rendering="crispEdges"/>
<line x1="275.24" x2="275.24" y1="35.0" y2="323.3" stroke="#000" stroke-opacity="0.4" stroke-width="1" shape-rendering="crispEdges"/>
<line x1="306.58" x2="306.58" y1="35.0" y2="323.3" stroke="#000" stroke-opacity="0.4" stroke-width="1" shape-rendering="crispEdges"/>
<line x1="337.92" x2="337.92" y1="35.0" y2="323.3" stroke="#000" stroke-opacity="0.4" stroke-width="1" shape-rendering="crispEdges"/>
<line x1="369.26" x2="369.26" y1="35.0" y2="323.3" stroke="#000" stroke-opacity="0.4" stroke-width="1" shape-rendering="crispEdges"/>
<line x1="87.2" x2="400.6" y1="63.83" y2="63.83" stroke="#000" stroke-opacity="0.4" stroke-width="1" shape-rendering="crispEdges"/>
<line x1="87.2" x2="400.6" y1="92.66" y2="92.66" stroke="#000" stroke-opacity="0.4" stroke-width="1" shape-rendering="crispEdges"/>
<line x1="87.2" x2="400.6" y1="121.49" y2="121.49" stroke="#000" stroke-opacity="0.4" stroke-width="1" shape-rendering="crispEdges"/>
<line x1="87.2" x2="400.6" y1="150.32" y2="150.32" stroke="#000" stroke-opacity="0.4" stroke-width="1" shape-rendering="crispEdges"/>
<line x1="87.2" x2="400.6" y1="179.15" y2="179.15" stroke="#000" stroke-opacity="0.4" stroke-width="1" shape-rendering="crispEdges"/>
<line x1="87.2" x2="400.6" y1="207.98" y2="207.98" stroke="#000" stroke-opacity="0.4" stroke-width="1" shape-rendering="crispEdges"/>
<line x1="87.2" x2="400.6" y1="236.81" y2="236.81" stroke="#000" stroke-opacity="0.4" stroke-width="1" shape-rendering="crispEdges"/>
<line x1="87.2" x2="400.6" y1="265.64" y2="265.64" stroke="#000" stroke-opacity="0.4" stroke-width="1" shape-rendering="crispEdges"/>
<line x1="87.2" x2="400.6" y1="294.47" y2="294.47" stroke="#000" stroke-opacity="0.4" stroke-width="1" shape-rendering="crispEdges"/>
<rect x="290" y="38.20" width="3" height="14.7" fill="#fff"/>
<rect x="290" y="56.80" width="3" height="7.4" fill="#fff"/>
<rect x="290" y="68.10" width="3" height="14.7" fill="#fff"/>
<rect x="290" y="86.70" width="3" height="7.4" fill="#fff"/>
<rect x="290" y="98.00" width="3" height="14.7" fill="#fff"/>
<rect x="290" y="116.60" width="3" height="7.4" fill="#fff"/>
<rect x="290" y="127.90" width="3" height="14.7" fill="#fff"/>
<rect x="290" y="146.50" width="3" height="7.4" fill="#fff"/>
<rect x="290" y="157.80" width="3" height="14.7" fill="#fff"/>
<rect x="290" y="176.40" width="3" height="7.4" fill="#fff"/>
<rect x="290" y="187.70" width="3" height="14.7" fill="#fff"/>
<rect x="290" y="206.30" width="3" height="7.4" fill="#fff"/>
<rect x="290" y="217.60" width="3" height="14.7" fill="#fff"/>
<rect x="290" y="236.20" width="3" height="7.4" fill="#fff"/>
<rect x="290" y="247.50" width="3" height="14.7" fill="#fff"/>
<rect x="290" y="266.10" width="3" height="7.4" fill="#fff"/>
<rect x="290" y="277.40" width="3" height="14.7" fill="#fff"/>
<rect x="290" y="296.00" width="3" height="7.4" fill="#fff"/>
<rect x="290" y="307.30" width="3" height="14.7" fill="#fff"/>
<rect x="87.2" y="35.0" width="313.40" height="288.30" fill="none" stroke="#262626" stroke-width="1.3"/>
<text transform="translate(92.55,332.3) rotate(-90) scale(1.075,1)" font-size="14.9" text-anchor="end" fill="#262626">01:50</text>
<text transform="translate(123.89,332.3) rotate(-90) scale(1.075,1)" font-size="14.9" text-anchor="end" fill="#262626">01:52</text>
<text transform="translate(155.23,332.3) rotate(-90) scale(1.075,1)" font-size="14.9" text-anchor="end" fill="#262626">01:54</text>
<text transform="translate(186.57,332.3) rotate(-90) scale(1.075,1)" font-size="14.9" text-anchor="end" fill="#262626">01:56</text>
<text transform="translate(217.91,332.3) rotate(-90) scale(1.075,1)" font-size="14.9" text-anchor="end" fill="#262626">01:58</text>
<text transform="translate(249.25,332.3) rotate(-90) scale(1.075,1)" font-size="14.9" text-anchor="end" fill="#262626">02:00</text>
<text transform="translate(280.59,332.3) rotate(-90) scale(1.075,1)" font-size="14.9" text-anchor="end" fill="#262626">02:02</text>
<text transform="translate(311.93,332.3) rotate(-90) scale(1.075,1)" font-size="14.9" text-anchor="end" fill="#262626">02:04</text>
<text transform="translate(343.27,332.3) rotate(-90) scale(1.075,1)" font-size="14.9" text-anchor="end" fill="#262626">02:06</text>
<text transform="translate(374.61,332.3) rotate(-90) scale(1.075,1)" font-size="14.9" text-anchor="end" fill="#262626">02:08</text>
<text transform="translate(405.95,332.3) rotate(-90) scale(1.075,1)" font-size="14.9" text-anchor="end" fill="#262626">02:10</text>
<text transform="translate(243.2,393.8) scale(0.893,1)" font-size="18.8" text-anchor="middle" fill="#262626">Date (UTC)</text>
<text transform="translate(25.5,177.6) rotate(-90)" font-size="15.4" text-anchor="middle" fill="#262626">NRB (MHz km<tspan font-size="12.2" dy="-6">2</tspan><tspan dy="6"> </tspan><tspan font-style="italic" fill="#555">μ</tspan> J<tspan font-size="12.2" dy="-6">-1</tspan><tspan dy="6"> )</tspan></text>
<text x="60.4" y="22" font-size="18" text-anchor="middle" fill="#000">(a)</text>
<text x="495.6" y="22" font-size="18" text-anchor="middle" fill="#000">(b)</text>
<text x="645.8" y="22" font-size="18" text-anchor="middle" fill="#000">(c)</text>
<text x="796.3" y="22" font-size="18" text-anchor="middle" fill="#000">(d)</text>
<line x1="455.94" x2="455.94" y1="36.6" y2="321.9" stroke="#dcdcdc" stroke-width="1"/>
<line x1="481.78" x2="481.78" y1="36.6" y2="321.9" stroke="#dcdcdc" stroke-width="1"/>
<line x1="507.62" x2="507.62" y1="36.6" y2="321.9" stroke="#dcdcdc" stroke-width="1"/>
<line x1="533.46" x2="533.46" y1="36.6" y2="321.9" stroke="#dcdcdc" stroke-width="1"/>
<line x1="559.30" x2="559.30" y1="36.6" y2="321.9" stroke="#dcdcdc" stroke-width="1"/>
<line x1="430.1" x2="571.5" y1="65.13" y2="65.13" stroke="#dcdcdc" stroke-width="1"/>
<line x1="430.1" x2="571.5" y1="93.66" y2="93.66" stroke="#dcdcdc" stroke-width="1"/>
<line x1="430.1" x2="571.5" y1="122.19" y2="122.19" stroke="#dcdcdc" stroke-width="1"/>
<line x1="430.1" x2="571.5" y1="150.72" y2="150.72" stroke="#dcdcdc" stroke-width="1"/>
<line x1="430.1" x2="571.5" y1="179.25" y2="179.25" stroke="#dcdcdc" stroke-width="1"/>
<line x1="430.1" x2="571.5" y1="207.78" y2="207.78" stroke="#dcdcdc" stroke-width="1"/>
<line x1="430.1" x2="571.5" y1="236.31" y2="236.31" stroke="#dcdcdc" stroke-width="1"/>
<line x1="430.1" x2="571.5" y1="264.84" y2="264.84" stroke="#dcdcdc" stroke-width="1"/>
<line x1="430.1" x2="571.5" y1="293.37" y2="293.37" stroke="#dcdcdc" stroke-width="1"/>
<line x1="455.94" x2="455.94" y1="36.6" y2="39.6" stroke="#262626" stroke-width="1"/>
<line x1="455.94" x2="455.94" y1="321.9" y2="318.9" stroke="#262626" stroke-width="1"/>
<line x1="481.78" x2="481.78" y1="36.6" y2="39.6" stroke="#262626" stroke-width="1"/>
<line x1="481.78" x2="481.78" y1="321.9" y2="318.9" stroke="#262626" stroke-width="1"/>
<line x1="507.62" x2="507.62" y1="36.6" y2="39.6" stroke="#262626" stroke-width="1"/>
<line x1="507.62" x2="507.62" y1="321.9" y2="318.9" stroke="#262626" stroke-width="1"/>
<line x1="533.46" x2="533.46" y1="36.6" y2="39.6" stroke="#262626" stroke-width="1"/>
<line x1="533.46" x2="533.46" y1="321.9" y2="318.9" stroke="#262626" stroke-width="1"/>
<line x1="559.30" x2="559.30" y1="36.6" y2="39.6" stroke="#262626" stroke-width="1"/>
<line x1="559.30" x2="559.30" y1="321.9" y2="318.9" stroke="#262626" stroke-width="1"/>
<line x1="430.1" x2="433.1" y1="65.13" y2="65.13" stroke="#262626" stroke-width="1"/>
<line x1="571.5" x2="568.5" y1="65.13" y2="65.13" stroke="#262626" stroke-width="1"/>
<line x1="430.1" x2="433.1" y1="93.66" y2="93.66" stroke="#262626" stroke-width="1"/>
<line x1="571.5" x2="568.5" y1="93.66" y2="93.66" stroke="#262626" stroke-width="1"/>
<line x1="430.1" x2="433.1" y1="122.19" y2="122.19" stroke="#262626" stroke-width="1"/>
<line x1="571.5" x2="568.5" y1="122.19" y2="122.19" stroke="#262626" stroke-width="1"/>
<line x1="430.1" x2="433.1" y1="150.72" y2="150.72" stroke="#262626" stroke-width="1"/>
<line x1="571.5" x2="568.5" y1="150.72" y2="150.72" stroke="#262626" stroke-width="1"/>
<line x1="430.1" x2="433.1" y1="179.25" y2="179.25" stroke="#262626" stroke-width="1"/>
<line x1="571.5" x2="568.5" y1="179.25" y2="179.25" stroke="#262626" stroke-width="1"/>
<line x1="430.1" x2="433.1" y1="207.78" y2="207.78" stroke="#262626" stroke-width="1"/>
<line x1="571.5" x2="568.5" y1="207.78" y2="207.78" stroke="#262626" stroke-width="1"/>
<line x1="430.1" x2="433.1" y1="236.31" y2="236.31" stroke="#262626" stroke-width="1"/>
<line x1="571.5" x2="568.5" y1="236.31" y2="236.31" stroke="#262626" stroke-width="1"/>
<line x1="430.1" x2="433.1" y1="264.84" y2="264.84" stroke="#262626" stroke-width="1"/>
<line x1="571.5" x2="568.5" y1="264.84" y2="264.84" stroke="#262626" stroke-width="1"/>
<line x1="430.1" x2="433.1" y1="293.37" y2="293.37" stroke="#262626" stroke-width="1"/>
<line x1="571.5" x2="568.5" y1="293.37" y2="293.37" stroke="#262626" stroke-width="1"/>
<rect x="430.1" y="36.6" width="141.40" height="285.30" fill="none" stroke="#262626" stroke-width="1.2"/>
<text transform="translate(435.80,330.0) rotate(-90) scale(0.95,1)" font-size="16" text-anchor="end" fill="#262626">0</text>
<text transform="translate(461.64,330.0) rotate(-90) scale(0.95,1)" font-size="16" text-anchor="end" fill="#262626">2</text>
<text transform="translate(487.48,330.0) rotate(-90) scale(0.95,1)" font-size="16" text-anchor="end" fill="#262626">4</text>
<text transform="translate(513.32,330.0) rotate(-90) scale(0.95,1)" font-size="16" text-anchor="end" fill="#262626">6</text>
<text transform="translate(539.16,330.0) rotate(-90) scale(0.95,1)" font-size="16" text-anchor="end" fill="#262626">8</text>
<text transform="translate(565.00,330.0) rotate(-90) scale(0.95,1)" font-size="16" text-anchor="end" fill="#262626">10</text>
<line x1="634.40" x2="634.40" y1="36.6" y2="321.9" stroke="#dcdcdc" stroke-width="1"/>
<line x1="689.20" x2="689.20" y1="36.6" y2="321.9" stroke="#dcdcdc" stroke-width="1"/>
<line x1="579.3" x2="720.7" y1="65.13" y2="65.13" stroke="#dcdcdc" stroke-width="1"/>
<line x1="579.3" x2="720.7" y1="93.66" y2="93.66" stroke="#dcdcdc" stroke-width="1"/>
<line x1="579.3" x2="720.7" y1="122.19" y2="122.19" stroke="#dcdcdc" stroke-width="1"/>
<line x1="579.3" x2="720.7" y1="150.72" y2="150.72" stroke="#dcdcdc" stroke-width="1"/>
<line x1="579.3" x2="720.7" y1="179.25" y2="179.25" stroke="#dcdcdc" stroke-width="1"/>
<line x1="579.3" x2="720.7" y1="207.78" y2="207.78" stroke="#dcdcdc" stroke-width="1"/>
<line x1="579.3" x2="720.7" y1="236.31" y2="236.31" stroke="#dcdcdc" stroke-width="1"/>
<line x1="579.3" x2="720.7" y1="264.84" y2="264.84" stroke="#dcdcdc" stroke-width="1"/>
<line x1="579.3" x2="720.7" y1="293.37" y2="293.37" stroke="#dcdcdc" stroke-width="1"/>
<line x1="634.40" x2="634.40" y1="36.6" y2="39.6" stroke="#262626" stroke-width="1"/>
<line x1="634.40" x2="634.40" y1="321.9" y2="318.9" stroke="#262626" stroke-width="1"/>
<line x1="689.20" x2="689.20" y1="36.6" y2="39.6" stroke="#262626" stroke-width="1"/>
<line x1="689.20" x2="689.20" y1="321.9" y2="318.9" stroke="#262626" stroke-width="1"/>
<line x1="579.3" x2="582.3" y1="65.13" y2="65.13" stroke="#262626" stroke-width="1"/>
<line x1="720.7" x2="717.7" y1="65.13" y2="65.13" stroke="#262626" stroke-width="1"/>
<line x1="579.3" x2="582.3" y1="93.66" y2="93.66" stroke="#262626" stroke-width="1"/>
<line x1="720.7" x2="717.7" y1="93.66" y2="93.66" stroke="#262626" stroke-width="1"/>
<line x1="579.3" x2="582.3" y1="122.19" y2="122.19" stroke="#262626" stroke-width="1"/>
<line x1="720.7" x2="717.7" y1="122.19" y2="122.19" stroke="#262626" stroke-width="1"/>
<line x1="579.3" x2="582.3" y1="150.72" y2="150.72" stroke="#262626" stroke-width="1"/>
<line x1="720.7" x2="717.7" y1="150.72" y2="150.72" stroke="#262626" stroke-width="1"/>
<line x1="579.3" x2="582.3" y1="179.25" y2="179.25" stroke="#262626" stroke-width="1"/>
<line x1="720.7" x2="717.7" y1="179.25" y2="179.25" stroke="#262626" stroke-width="1"/>
<line x1="579.3" x2="582.3" y1="207.78" y2="207.78" stroke="#262626" stroke-width="1"/>
<line x1="720.7" x2="717.7" y1="207.78" y2="207.78" stroke="#262626" stroke-width="1"/>
<line x1="579.3" x2="582.3" y1="236.31" y2="236.31" stroke="#262626" stroke-width="1"/>
<line x1="720.7" x2="717.7" y1="236.31" y2="236.31" stroke="#262626" stroke-width="1"/>
<line x1="579.3" x2="582.3" y1="264.84" y2="264.84" stroke="#262626" stroke-width="1"/>
<line x1="720.7" x2="717.7" y1="264.84" y2="264.84" stroke="#262626" stroke-width="1"/>
<line x1="579.3" x2="582.3" y1="293.37" y2="293.37" stroke="#262626" stroke-width="1"/>
<line x1="720.7" x2="717.7" y1="293.37" y2="293.37" stroke="#262626" stroke-width="1"/>
<rect x="579.3" y="36.6" width="141.40" height="285.30" fill="none" stroke="#262626" stroke-width="1.2"/>
<text transform="translate(585.00,330.0) rotate(-90) scale(0.95,1)" font-size="16" text-anchor="end" fill="#262626">24</text>
<text transform="translate(640.10,330.0) rotate(-90) scale(1.02,1)" font-size="16" text-anchor="end" fill="#262626">24.1</text>
<text transform="translate(694.90,330.0) rotate(-90) scale(1.02,1)" font-size="16" text-anchor="end" fill="#262626">24.2</text>
<line x1="748.88" x2="748.88" y1="36.6" y2="321.9" stroke="#dcdcdc" stroke-width="1"/>
<line x1="772.56" x2="772.56" y1="36.6" y2="321.9" stroke="#dcdcdc" stroke-width="1"/>
<line x1="796.24" x2="796.24" y1="36.6" y2="321.9" stroke="#dcdcdc" stroke-width="1"/>
<line x1="819.92" x2="819.92" y1="36.6" y2="321.9" stroke="#dcdcdc" stroke-width="1"/>
<line x1="843.60" x2="843.60" y1="36.6" y2="321.9" stroke="#dcdcdc" stroke-width="1"/>
<line x1="725.2" x2="867.3" y1="65.13" y2="65.13" stroke="#dcdcdc" stroke-width="1"/>
<line x1="725.2" x2="867.3" y1="93.66" y2="93.66" stroke="#dcdcdc" stroke-width="1"/>
<line x1="725.2" x2="867.3" y1="122.19" y2="122.19" stroke="#dcdcdc" stroke-width="1"/>
<line x1="725.2" x2="867.3" y1="150.72" y2="150.72" stroke="#dcdcdc" stroke-width="1"/>
<line x1="725.2" x2="867.3" y1="179.25" y2="179.25" stroke="#dcdcdc" stroke-width="1"/>
<line x1="725.2" x2="867.3" y1="207.78" y2="207.78" stroke="#dcdcdc" stroke-width="1"/>
<line x1="725.2" x2="867.3" y1="236.31" y2="236.31" stroke="#dcdcdc" stroke-width="1"/>
<line x1="725.2" x2="867.3" y1="264.84" y2="264.84" stroke="#dcdcdc" stroke-width="1"/>
<line x1="725.2" x2="867.3" y1="293.37" y2="293.37" stroke="#dcdcdc" stroke-width="1"/>
<line x1="748.88" x2="748.88" y1="36.6" y2="39.6" stroke="#262626" stroke-width="1"/>
<line x1="748.88" x2="748.88" y1="321.9" y2="318.9" stroke="#262626" stroke-width="1"/>
<line x1="772.56" x2="772.56" y1="36.6" y2="39.6" stroke="#262626" stroke-width="1"/>
<line x1="772.56" x2="772.56" y1="321.9" y2="318.9" stroke="#262626" stroke-width="1"/>
<line x1="796.24" x2="796.24" y1="36.6" y2="39.6" stroke="#262626" stroke-width="1"/>
<line x1="796.24" x2="796.24" y1="321.9" y2="318.9" stroke="#262626" stroke-width="1"/>
<line x1="819.92" x2="819.92" y1="36.6" y2="39.6" stroke="#262626" stroke-width="1"/>
<line x1="819.92" x2="819.92" y1="321.9" y2="318.9" stroke="#262626" stroke-width="1"/>
<line x1="843.60" x2="843.60" y1="36.6" y2="39.6" stroke="#262626" stroke-width="1"/>
<line x1="843.60" x2="843.60" y1="321.9" y2="318.9" stroke="#262626" stroke-width="1"/>
<line x1="725.2" x2="728.2" y1="65.13" y2="65.13" stroke="#262626" stroke-width="1"/>
<line x1="867.3" x2="864.3" y1="65.13" y2="65.13" stroke="#262626" stroke-width="1"/>
<line x1="725.2" x2="728.2" y1="93.66" y2="93.66" stroke="#262626" stroke-width="1"/>
<line x1="867.3" x2="864.3" y1="93.66" y2="93.66" stroke="#262626" stroke-width="1"/>
<line x1="725.2" x2="728.2" y1="122.19" y2="122.19" stroke="#262626" stroke-width="1"/>
<line x1="867.3" x2="864.3" y1="122.19" y2="122.19" stroke="#262626" stroke-width="1"/>
<line x1="725.2" x2="728.2" y1="150.72" y2="150.72" stroke="#262626" stroke-width="1"/>
<line x1="867.3" x2="864.3" y1="150.72" y2="150.72" stroke="#262626" stroke-width="1"/>
<line x1="725.2" x2="728.2" y1="179.25" y2="179.25" stroke="#262626" stroke-width="1"/>
<line x1="867.3" x2="864.3" y1="179.25" y2="179.25" stroke="#262626" stroke-width="1"/>
<line x1="725.2" x2="728.2" y1="207.78" y2="207.78" stroke="#262626" stroke-width="1"/>
<line x1="867.3" x2="864.3" y1="207.78" y2="207.78" stroke="#262626" stroke-width="1"/>
<line x1="725.2" x2="728.2" y1="236.31" y2="236.31" stroke="#262626" stroke-width="1"/>
<line x1="867.3" x2="864.3" y1="236.31" y2="236.31" stroke="#262626" stroke-width="1"/>
<line x1="725.2" x2="728.2" y1="264.84" y2="264.84" stroke="#262626" stroke-width="1"/>
<line x1="867.3" x2="864.3" y1="264.84" y2="264.84" stroke="#262626" stroke-width="1"/>
<line x1="725.2" x2="728.2" y1="293.37" y2="293.37" stroke="#262626" stroke-width="1"/>
<line x1="867.3" x2="864.3" y1="293.37" y2="293.37" stroke="#262626" stroke-width="1"/>
<rect x="725.2" y="36.6" width="142.10" height="285.30" fill="none" stroke="#262626" stroke-width="1.2"/>
<text transform="translate(730.90,330.0) rotate(-90) scale(0.95,1)" font-size="16" text-anchor="end" fill="#262626">0</text>
<text transform="translate(754.58,330.0) rotate(-90) scale(0.97,1)" font-size="16" text-anchor="end" fill="#262626">0.1</text>
<text transform="translate(778.26,330.0) rotate(-90) scale(0.97,1)" font-size="16" text-anchor="end" fill="#262626">0.2</text>
<text transform="translate(801.94,330.0) rotate(-90) scale(0.97,1)" font-size="16" text-anchor="end" fill="#262626">0.3</text>
<text transform="translate(825.62,330.0) rotate(-90) scale(0.97,1)" font-size="16" text-anchor="end" fill="#262626">0.4</text>
<text transform="translate(849.30,330.0) rotate(-90) scale(0.97,1)" font-size="16" text-anchor="end" fill="#262626">0.5</text>
<text transform="translate(872.98,330.0) rotate(-90) scale(0.97,1)" font-size="16" text-anchor="end" fill="#262626">0.6</text>
<polyline points="443.8,48.9 471.9,59.6 497.2,70.3 516.5,81.0 535.1,91.7 534.3,102.4 519.3,113.1 520.4,123.8 537.5,134.5 557.4,145.2 571.1,155.9 562.8,166.6 547.8,177.3 526.3,188.0 505.6,198.7 489.7,209.4 496.3,220.1 477.5,230.8 445.6,241.5 435.3,252.2 461.6,262.9 501.9,273.6 522.5,284.3 466.3,295.0 438.9,305.7" fill="none" stroke="#000" stroke-width="1.8" stroke-linejoin="round"/>
<polyline points="614.4,48.9 615.4,59.6 622.5,70.3 635.6,81.0 655.6,91.7 674.1,102.4 690.0,113.1 701.3,123.8 709.7,134.5 716.6,145.2 720.6,155.9 717.6,166.6 704.6,177.3 686.3,188.0 667.5,198.7 650.6,209.4 635.6,220.1 620.9,230.8 609.4,241.5 598.1,252.2 604.1,262.9 604.1,273.6 608.4,284.3 613.6,295.0 614.8,305.7" fill="none" stroke="#000" stroke-width="1.8" stroke-linejoin="round"/>
<polyline points="855.7,48.9 848.2,59.6 843.9,70.3 842.0,81.0 842.4,91.7 843.5,102.4 839.8,113.1 842.9,123.8 841.1,134.5 838.8,145.2 838.1,155.9 838.2,166.6 835.4,177.3 829.6,188.0 821.4,198.7 813.5,209.4 813.5,220.1 809.2,230.8 806.9,241.5 776.0,252.2 798.5,262.9 797.8,273.6 807.3,284.3 788.3,295.0 749.0,305.7" fill="none" stroke="#000" stroke-width="1.6" stroke-linejoin="round"/>
<path d="M836.9 110.2L842.7 116.0M836.9 116.0L842.7 110.2" stroke="#000" stroke-width="1.4" fill="none"/>
<path d="M840.0 120.9L845.8 126.7M840.0 126.7L845.8 120.9" stroke="#000" stroke-width="1.4" fill="none"/>
<path d="M838.2 131.6L844.0 137.4M838.2 137.4L844.0 131.6" stroke="#000" stroke-width="1.4" fill="none"/>
<path d="M835.9 142.3L841.7 148.1M835.9 148.1L841.7 142.3" stroke="#000" stroke-width="1.4" fill="none"/>
<path d="M835.2 153.0L841.0 158.8M835.2 158.8L841.0 153.0" stroke="#000" stroke-width="1.4" fill="none"/>
<path d="M835.3 163.7L841.1 169.5M835.3 169.5L841.1 163.7" stroke="#000" stroke-width="1.4" fill="none"/>
<path d="M832.5 174.4L838.3 180.2M832.5 180.2L838.3 174.4" stroke="#000" stroke-width="1.4" fill="none"/>
<path d="M826.7 185.1L832.5 190.9M826.7 190.9L832.5 185.1" stroke="#000" stroke-width="1.4" fill="none"/>
<path d="M818.5 195.8L824.3 201.6M818.5 201.6L824.3 195.8" stroke="#000" stroke-width="1.4" fill="none"/>
<path d="M810.6 206.5L816.4 212.3M810.6 212.3L816.4 206.5" stroke="#000" stroke-width="1.4" fill="none"/>
<path d="M810.6 217.2L816.4 223.0M810.6 223.0L816.4 217.2" stroke="#000" stroke-width="1.4" fill="none"/>
<path d="M806.3 227.9L812.1 233.7M806.3 233.7L812.1 227.9" stroke="#000" stroke-width="1.4" fill="none"/>
<path d="M804.0 238.6L809.8 244.4M804.0 244.4L809.8 238.6" stroke="#000" stroke-width="1.4" fill="none"/>
<path d="M773.1 249.3L778.9 255.1M773.1 255.1L778.9 249.3" stroke="#000" stroke-width="1.4" fill="none"/>
<text x="873.4" y="42.50" font-size="16" fill="#262626">12.4</text>
<text x="873.4" y="71.03" font-size="16" fill="#262626">12.2</text>
<text x="873.4" y="99.56" font-size="16" fill="#262626">12</text>
<text x="873.4" y="128.09" font-size="16" letter-spacing="0.8" fill="#262626">11.8</text>
<text x="873.4" y="156.62" font-size="16" letter-spacing="0.8" fill="#262626">11.6</text>
<text x="873.4" y="185.15" font-size="16" letter-spacing="0.8" fill="#262626">11.4</text>
<text x="873.4" y="213.68" font-size="16" letter-spacing="0.8" fill="#262626">11.2</text>
<text x="873.4" y="242.21" font-size="16" letter-spacing="0.8" fill="#262626">11</text>
<text x="873.4" y="270.74" font-size="16" fill="#262626">10.8</text>
<text x="873.4" y="299.27" font-size="16" fill="#262626">10.6</text>
<text x="873.4" y="327.80" font-size="16" fill="#262626">10.4</text>
<text transform="translate(930.6,179.5) rotate(-90) scale(0.9,1)" font-size="20.9" text-anchor="middle" fill="#262626">H (km)</text>
<text x="440.2" y="373.6" font-size="20" font-style="italic" fill="#666" font-family="Liberation Serif, serif">β</text>
<text x="450.9" y="381.8" font-size="14" fill="#262626">p</text>
<text x="465.0" y="373.4" font-size="18.8" fill="#262626">(Mm</text>
<text x="504.4" y="364.4" font-size="12.6" fill="#262626">-1</text>
<text x="523.3" y="373.4" font-size="18.8" fill="#262626">sr</text>
<text x="540.0" y="364.4" font-size="12.6" fill="#262626">-1</text>
<text x="553.6" y="373.4" font-size="18.8" fill="#262626">)</text>
<text x="649.7" y="383.5" font-size="19.3" text-anchor="middle" fill="#262626">LR (sr)</text>
<text x="795.4" y="373.3" font-size="19.4" text-anchor="middle" fill="#262626">LCDR</text>
</svg>
</body></html>
